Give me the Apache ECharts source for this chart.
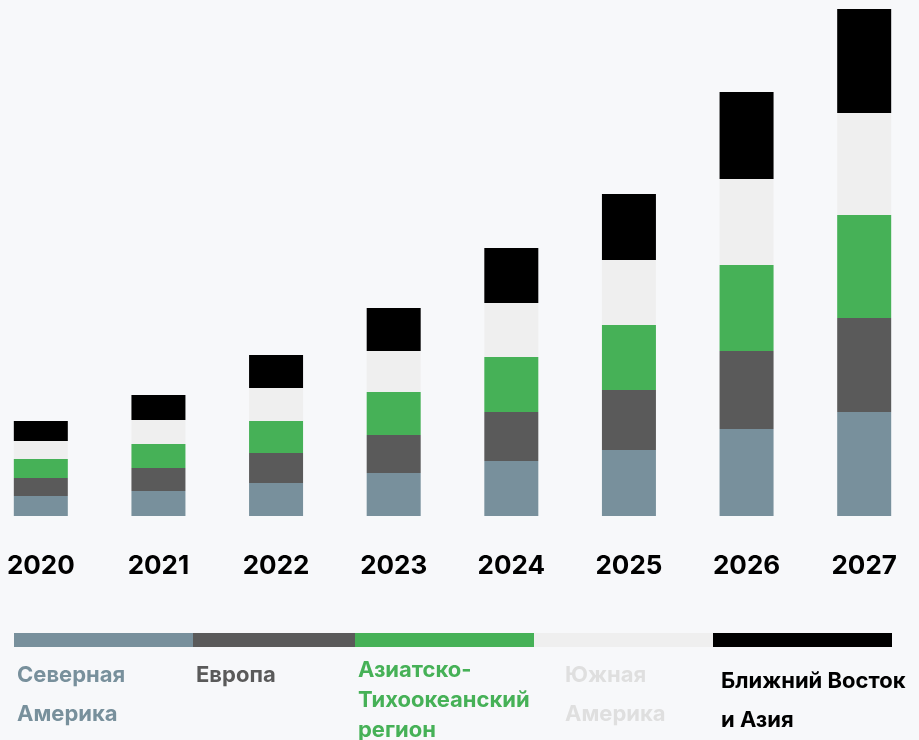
<!DOCTYPE html>
<html>
<head>
<meta charset="utf-8">
<script src="https://cdn.jsdelivr.net/npm/echarts@6/dist/echarts.min.js"></script>
<style>
html,body{margin:0;padding:0;background:#f7f8fa;}
#c{width:919px;height:740px;}
</style>
</head>
<body>
<div id="c"></div>
<script>
const years = ['2020','2021','2022','2023','2024','2025','2026','2027'];
const seriesNames = ['Северная\nАмерика','Европа','Азиатско-\nТихоокеанский\nрегион','Южная\nАмерика','Ближний Восток\nи Азия'];
const northAmerica = [20,25,33,43,55,66,87,104];
const europe = [18,23,30,38,49,60,78,94];
const asiaPacific = [19,24,32,43,55,65,86,103];
const southAmerica = [18,24,33,41,54,65,86,102];
const middleEast = [20,25,33,43,55,66,87,104];

const colors = ['#78909c','#5a5a5a','#46b157','#efefef','#000000'];
const labelColors = ['#78909c','#5a5a5a','#46b157','#dfdfdf','#000000'];
const values = [northAmerica, europe, asiaPacific, southAmerica, middleEast];

const chart = echarts.init(document.getElementById('c'));
const FONT = 'Inter, "Noto Sans", sans-serif';

const legendBars = [[14,193],[193,355],[355,534],[534,713],[713,892]];
const legendText = [
  {x:17, top:655.5, lh:39},
  {x:196, top:655.5, lh:39},
  {x:358, top:655, lh:30},
  {x:565, top:655.5, lh:39},
  {x:721, top:661.5, lh:39}
];
const graphic = [];
legendBars.forEach((b,i)=>{
  graphic.push({type:'rect', shape:{x:b[0], y:633, width:b[1]-b[0], height:14}, style:{fill:colors[i]}, silent:true});
  graphic.push({type:'text', x:legendText[i].x, y:legendText[i].top, silent:true,
    style:{text:seriesNames[i], fill:labelColors[i], font:'bold 22px '+FONT, lineHeight:legendText[i].lh, verticalAlign:'top'}});
});

chart.setOption({
  backgroundColor:'#f7f8fa',
  animation:false,
  grid:{left:-18, right:-4, top:0, bottom:224, outerBoundsMode:'none', containLabel:false},
  xAxis:{type:'category', data:years,
    axisLine:{show:false}, axisTick:{show:false},
    axisLabel:{color:'#000', fontSize:26, fontWeight:'bold', fontFamily:FONT, margin:37}},
  yAxis:{type:'value', min:0, max:516, show:false, splitLine:{show:false}},
  series: values.map((v,i)=>({
    name: seriesNames[i], type:'bar', stack:'total', data:v, barWidth:54,
    itemStyle:{color:colors[i]}
  })),
  graphic: graphic
});
</script>
</body>
</html>
